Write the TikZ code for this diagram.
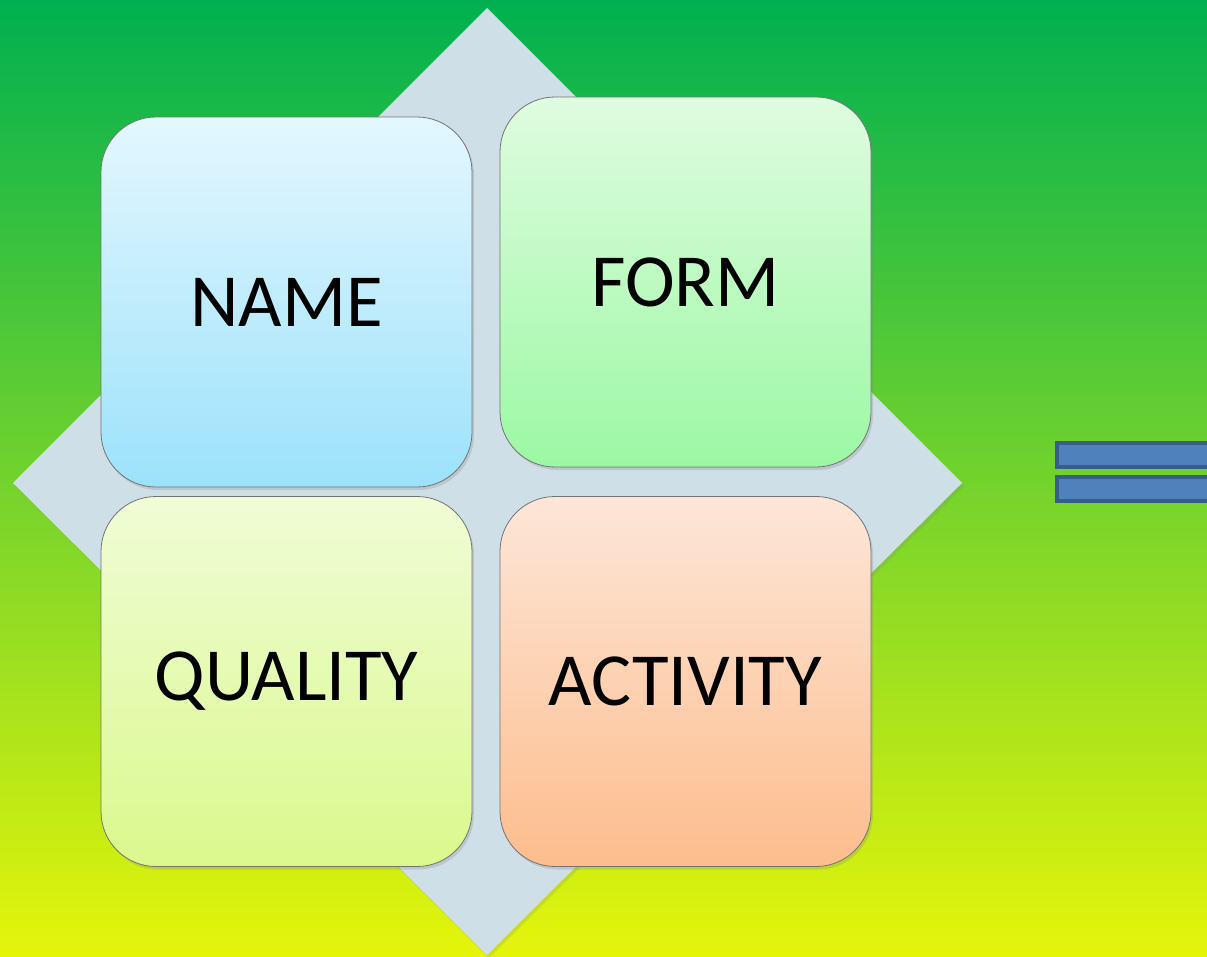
\documentclass[tikz,border=0pt]{standalone}
\usepackage{fontspec}
\setmainfont{Carlito}
\usetikzlibrary{shapes,positioning,shadows}
\definecolor{bgtop}{RGB}{0,176,80}
\definecolor{bgmid}{RGB}{92,203,52}
\definecolor{bgbot}{RGB}{229,245,10}
\definecolor{basefill}{RGB}{207,223,232}
\definecolor{eqfill}{RGB}{79,129,189}
\definecolor{eqline}{RGB}{56,93,138}

\begin{document}
\begin{tikzpicture}[
    x=1pt, y=-1pt,
    every node/.style={
        inner sep=0pt,
        align=center,
        font=\fontsize{75}{90}\selectfont
    },
    box/.style={
        rectangle, rounded corners=55pt,
        draw=black!55, line width=0.8pt,
        minimum width=371pt, minimum height=370pt,
        drop shadow={opacity=0.25, shadow xshift=2pt, shadow yshift=-3pt}
    },
    bar/.style={
        rectangle, fill=eqfill, draw=eqline, line width=4.5pt,
        minimum width=190pt, minimum height=24pt
    }
]
\useasboundingbox (0,0) rectangle (1207,956);
\clip (0,0) rectangle (1207,956);
\shade[top color=bgtop, middle color=bgmid, bottom color=bgbot]
    (0,0) rectangle (1207,956);

% base diamond
\coordinate (top) at (487,8);
\coordinate (right) at (962,483);
\coordinate (bottom) at (487,955);
\coordinate (left) at (13,483);
\fill[basefill, drop shadow={opacity=0.2, shadow xshift=2pt, shadow yshift=-3pt}]
    (top) -- (right) -- (bottom) -- (left) -- cycle;

% four boxes
\node[box, top color={rgb,255:red,228;green,247;blue,254},
      bottom color={rgb,255:red,156;green,226;blue,251}]
    (name) at (286.5,302) {NAME};
\node[box, top color={rgb,255:red,223;green,252;blue,224},
      bottom color={rgb,255:red,156;green,248;blue,164}]
    (form) at (685.5,282) {FORM};
\node[box, top color={rgb,255:red,240;green,252;blue,214},
      bottom color={rgb,255:red,218;green,249;blue,141}]
    (quality) at (286.5,681.5) {QUALITY};
\node[box, top color={rgb,255:red,253;green,230;blue,216},
      bottom color={rgb,255:red,253;green,189;blue,141}]
    (activity) at (685.5,681.5) {ACTIVITY};

% equals sign
\node[bar] (eqtop) at (1152,455) {};
\node[bar] (eqbot) at (1152,489) {};
\end{tikzpicture}
\end{document}
